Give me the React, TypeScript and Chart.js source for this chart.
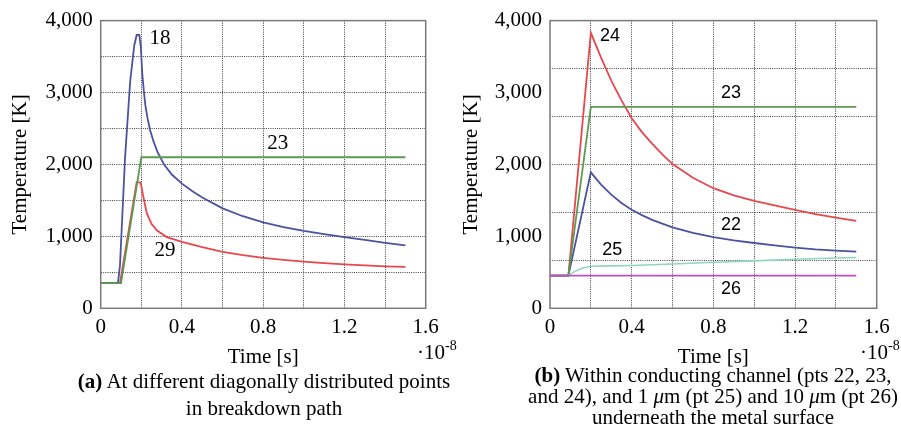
import React, { useEffect, useRef } from 'react';
import { Chart, registerables } from 'chart.js';
Chart.register(...registerables);

// ---------- tick definitions ----------
const xGridTicks = [0, 0.2, 0.4, 0.6, 0.8, 1.0, 1.2, 1.4, 1.6];
const xLabelTicks = [0, 0.4, 0.8, 1.2, 1.6];
const yLabelTicks = [0, 1000, 2000, 3000, 4000];
const yGridA = [0, 500, 1000, 1500, 2000, 2500, 3000, 3500, 4000];
const yGridB = [0, 666.67, 1333.33, 2000, 2666.67, 3333.33, 4000];

// ---------- chart (a) data (time in 1e-8 s, temperature in K) ----------
const tA18 = [0, 0.085, 0.095, 0.12, 0.145, 0.165, 0.177, 0.19, 0.197, 0.205, 0.213, 0.22, 0.23, 0.243, 0.26, 0.28, 0.312, 0.35, 0.4, 0.45, 0.5, 0.6, 0.7, 0.8, 0.9, 1.0, 1.1, 1.2, 1.3, 1.4, 1.5];
const vA18 = [350, 350, 600, 2100, 3150, 3650, 3800, 3800, 3650, 3250, 3000, 2820, 2650, 2480, 2320, 2170, 2000, 1860, 1733, 1630, 1540, 1390, 1280, 1195, 1130, 1075, 1030, 990, 950, 910, 875];

const tA23 = [0, 0.1, 0.2, 1.5];
const vA23 = [350, 350, 2100, 2100];

const tA29 = [0, 0.095, 0.177, 0.195, 0.2, 0.21, 0.227, 0.25, 0.276, 0.325, 0.4, 0.5, 0.6, 0.7, 0.8, 0.9, 1.0, 1.1, 1.2, 1.3, 1.4, 1.5];
const vA29 = [350, 350, 1750, 1750, 1700, 1550, 1320, 1175, 1085, 990, 925, 850, 785, 738, 702, 672, 648, 628, 610, 596, 584, 575];

// ---------- chart (b) data ----------
const tB24 = [0, 0.09, 0.2, 0.25, 0.3, 0.35, 0.4, 0.45, 0.5, 0.55, 0.6, 0.7, 0.8, 0.9, 1.0, 1.1, 1.2, 1.3, 1.4, 1.5];
const vB24 = [455, 455, 3830, 3485, 3166, 2890, 2642, 2450, 2290, 2140, 2005, 1815, 1670, 1570, 1495, 1430, 1370, 1310, 1260, 1215];

const tB23 = [0, 0.09, 0.2, 1.5];
const vB23 = [455, 455, 2800, 2800];

const tB22 = [0, 0.09, 0.2, 0.25, 0.3, 0.35, 0.4, 0.45, 0.5, 0.6, 0.7, 0.8, 0.9, 1.0, 1.1, 1.2, 1.3, 1.4, 1.5];
const vB22 = [455, 455, 1890, 1720, 1580, 1465, 1370, 1295, 1230, 1125, 1050, 990, 945, 908, 875, 845, 820, 802, 788];

const tB25 = [0, 0.09, 0.12, 0.16, 0.2, 0.3, 0.4, 0.6, 0.8, 1.0, 1.2, 1.4, 1.5];
const vB25 = [455, 455, 510, 560, 585, 590, 595, 615, 640, 660, 683, 700, 706];

const tB26 = [0, 1.5];
const vB26 = [455, 455];

// ---------- in-plot curve labels (data coordinates) ----------
const labelsA = [
  { text: '18', x: 0.292, y: 3747 },
  { text: '23', x: 0.872, y: 2285 },
  { text: '29', x: 0.317, y: 805 },
];
const labelsB = [
  { text: '24', x: 0.294, y: 3781 },
  { text: '23', x: 0.887, y: 2993 },
  { text: '22', x: 0.887, y: 1153 },
  { text: '25', x: 0.305, y: 806 },
  { text: '26', x: 0.887, y: 273 },
];

const SERIF = '"Liberation Serif", "Times New Roman", serif';
const SANS = '"Liberation Sans", Arial, sans-serif';

const toXY = (t: number[], v: number[]) => t.map((x, i) => ({ x, y: v[i] }));
const near = (a: number, b: number) => Math.abs(a - b) < 1e-6;

const framePlugin = {
  id: 'frame',
  beforeDatasetsDraw(chart: any) {
    const { ctx, chartArea } = chart;
    const { left, top, right, bottom } = chartArea;
    ctx.save();
    ctx.strokeStyle = '#7a7a7a';
    ctx.lineWidth = 1.5;
    ctx.strokeRect(left, top, right - left, bottom - top);
    ctx.restore();
  },
  afterDatasetsDraw(chart: any, _args: any, opts: any) {
    const { ctx } = chart;
    const xs = chart.scales.x;
    const ys = chart.scales.y;
    ctx.save();
    ctx.fillStyle = '#000';
    ctx.font = opts.font;
    ctx.textAlign = 'center';
    ctx.textBaseline = 'middle';
    (opts.labels || []).forEach((l: any) => {
      ctx.fillText(l.text, xs.getPixelForValue(l.x), ys.getPixelForValue(l.y));
    });
    ctx.restore();
  },
};

function makeConfig(datasets: any[], yTicks: number[], yGrid: number[], labels: any[], labelFont: string, padTop: number, titlePad: number, yWidth: number) {
  const font = { family: SERIF, size: 21 };
  return {
    type: 'line',
    data: { datasets },
    plugins: [framePlugin],
    options: {
      animation: false,
      responsive: false,
      devicePixelRatio: 1,
      layout: { padding: { left: 0, right: 24.3, top: padTop, bottom: 0 } },
      elements: { point: { radius: 0 }, line: { tension: 0 } },
      plugins: {
        legend: { display: false },
        tooltip: { enabled: false },
        frame: { labels, font: labelFont },
      },
      scales: {
        x: {
          type: 'linear',
          min: 0,
          max: 1.6,
          afterBuildTicks: (s: any) => { s.ticks = xGridTicks.map((value) => ({ value })); },
          afterFit: (s: any) => { s.height = 61.7; },
          ticks: {
            autoSkip: false,
            maxRotation: 0,
            padding: 7,
            color: '#000',
            font,
            callback: (v: number) => (xLabelTicks.some((t) => near(t, v)) ? (v === 0 ? '0' : v.toFixed(1)) : ''),
          },
          grid: {
            drawTicks: false,
            lineWidth: 1,
            color: (c: any) => {
              const v = c.tick ? c.tick.value : 0;
              return near(v, 0) || near(v, 1.6) ? 'rgba(0,0,0,0)' : '#404040';
            },
          },
          border: { display: false, dash: [1, 1.2] },
          title: { display: true, text: 'Time [s]', color: '#000', font, padding: { top: 0, bottom: 0 } },
        },
        y: {
          type: 'linear',
          min: 0,
          max: 4000,
          afterBuildTicks: (s: any) => {
            const all = Array.from(new Set([...yTicks, ...yGrid])).sort((a, b) => a - b);
            s.ticks = all.map((value) => ({ value }));
          },
          afterFit: (s: any) => { s.width = yWidth; },
          ticks: {
            autoSkip: false,
            padding: 8,
            color: '#000',
            font,
            callback: (v: number) => (yTicks.some((t) => near(t, v)) ? v.toLocaleString('en-US') : ''),
          },
          grid: {
            drawTicks: false,
            lineWidth: 1,
            color: (c: any) => {
              const v = c.tick ? c.tick.value : 0;
              if (near(v, 0) || near(v, 4000)) return 'rgba(0,0,0,0)';
              return yGrid.some((g) => near(g, v)) ? '#404040' : 'rgba(0,0,0,0)';
            },
          },
          border: { display: false, dash: [1, 1.2] },
          title: { display: true, text: 'Temperature [K]', color: '#000', font, padding: { top: titlePad, bottom: 0 } },
        },
      },
    },
  };
}

const line = (data: any, color: string, width = 1.8) => ({
  data,
  borderColor: color,
  backgroundColor: color,
  borderWidth: width,
  fill: false,
  pointRadius: 0,
});

function ChartA() {
  const ref = useRef<HTMLCanvasElement>(null);
  useEffect(() => {
    const ds = [
      line(toXY(tA23, vA23), '#5c9a50'),
      line(toXY(tA18, vA18), '#4b52a0'),
      line(toXY(tA29, vA29), '#e8474c'),
    ];
    const chart = new Chart(ref.current as any, makeConfig(ds, yLabelTicks, yGridA, labelsA, `21px ${SERIF}`, 18.3, 7.4, 100.7) as any);
    return () => chart.destroy();
  }, []);
  return <canvas ref={ref} width={450} height={370} style={{ position: 'absolute', left: 0, top: 0, width: 450, height: 370 }} />;
}

function ChartB() {
  const ref = useRef<HTMLCanvasElement>(null);
  useEffect(() => {
    const ds = [
      line(toXY(tB26, vB26), '#c24fc2'),
      line(toXY(tB25, vB25), '#8fd6bc', 1.6),
      line(toXY(tB23, vB23), '#5c9a50'),
      line(toXY(tB22, vB22), '#4b52a0'),
      line(toXY(tB24, vB24), '#e8474c'),
    ];
    const chart = new Chart(ref.current as any, makeConfig(ds, yLabelTicks, yGridB, labelsB, `18px ${SANS}`, 15.7, 9.1, 100) as any);
    return () => chart.destroy();
  }, []);
  return <canvas ref={ref} width={451} height={370} style={{ position: 'absolute', left: 450, top: 0, width: 451, height: 370 }} />;
}

const textStyle = (cx: number, cy: number): React.CSSProperties => ({
  position: 'absolute',
  left: cx - 300,
  width: 600,
  top: cy - 12,
  height: 24,
  lineHeight: '24px',
  textAlign: 'center',
  whiteSpace: 'nowrap',
  fontFamily: SERIF,
  fontSize: 21,
  color: '#000',
});

const expStyle = (x: number, cy: number): React.CSSProperties => ({
  position: 'absolute',
  left: x,
  top: cy - 12,
  height: 24,
  lineHeight: '24px',
  whiteSpace: 'nowrap',
  fontFamily: SERIF,
  fontSize: 21,
  color: '#000',
});

const Exp = () => (
  <>
    ·10<sup style={{ fontSize: 14, verticalAlign: 'top', lineHeight: '14px', position: 'relative', top: -1 }}>-8</sup>
  </>
);

export default function App() {
  return (
    <div style={{ position: 'absolute', left: 0, top: 0, width: 901, height: 439, background: '#fff', overflow: 'hidden' }}>
      <ChartA />
      <ChartB />
      <div style={expStyle(417, 351.7)}><Exp /></div>
      <div style={expStyle(860, 351.7)}><Exp /></div>
      <div style={textStyle(264, 381)}><b>(a)</b> At different diagonally distributed points</div>
      <div style={textStyle(264, 408)}>in breakdown path</div>
      <div style={textStyle(713, 375)}><b>(b)</b> Within conducting channel (pts 22, 23,</div>
      <div style={textStyle(713, 396)}>and 24), and 1 <i>μ</i>m (pt 25) and 10 <i>μ</i>m (pt 26)</div>
      <div style={textStyle(713, 417)}>underneath the metal surface</div>
    </div>
  );
}
